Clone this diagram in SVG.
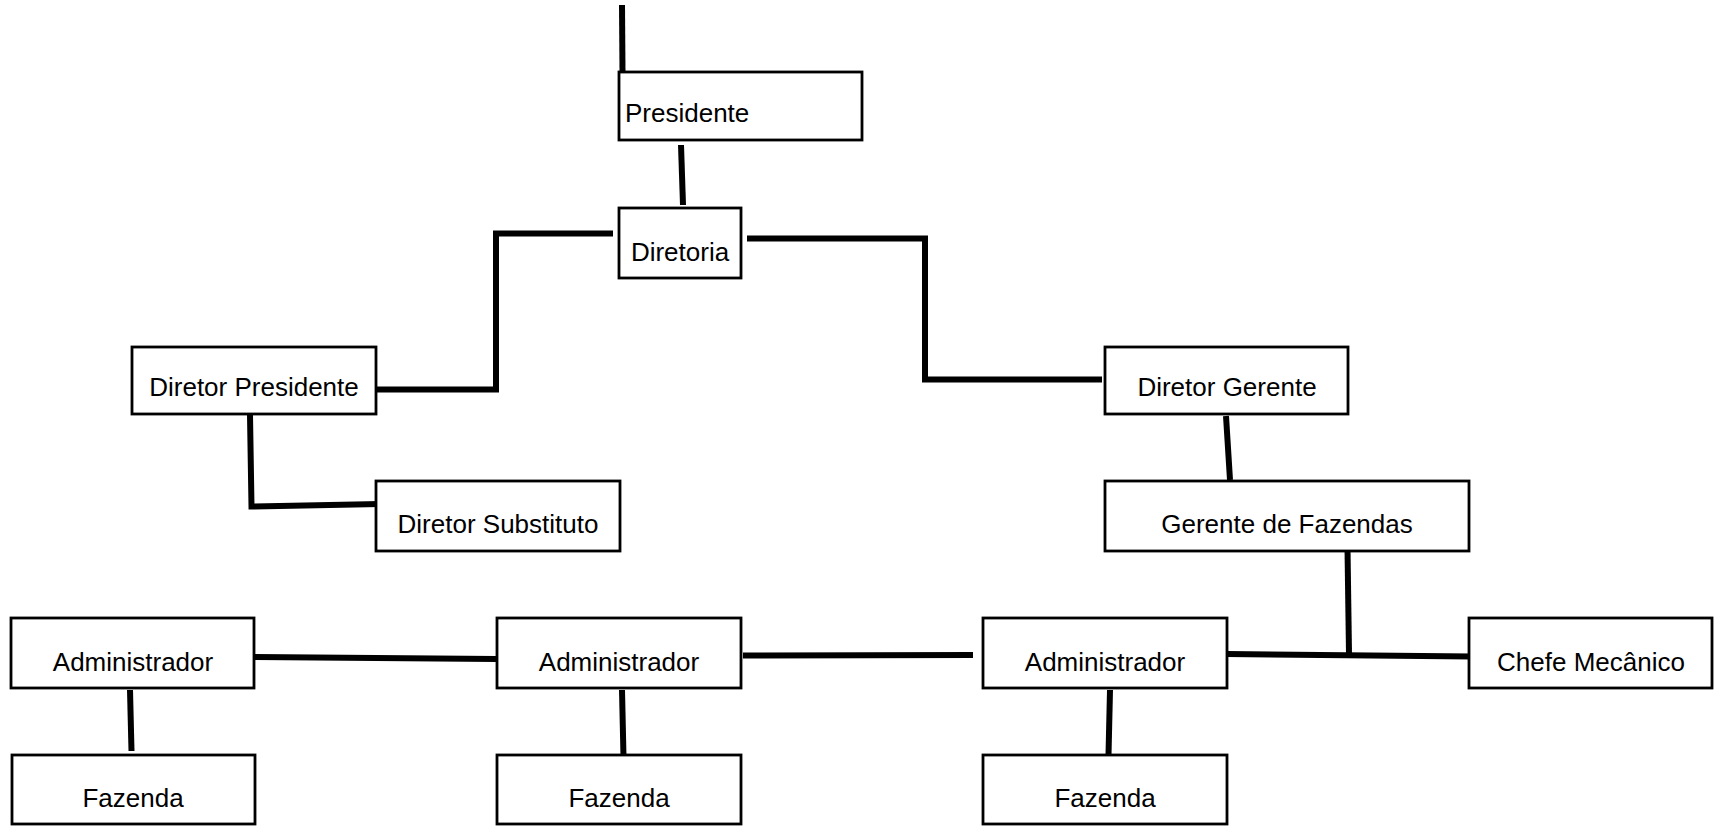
<svg xmlns="http://www.w3.org/2000/svg" width="1714" height="827" viewBox="0 0 1714 827">
<style>
.box{fill:#fff;stroke:#000;stroke-width:2.8}
.lbl{font-family:"Liberation Sans",Arial,sans-serif;font-size:26px;fill:#000;text-anchor:middle}
.con{fill:none;stroke:#000;stroke-width:6;stroke-linejoin:miter;stroke-linecap:butt}
</style>
<rect width="1714" height="827" fill="#fff"/>
<g id="connectors">
<path class="con" d="M622 5 L622.5 72"/>
<path class="con" d="M681 145 L683 205"/>
<path class="con" d="M613 233.5 L496 233.5 L496 389.5 L377 389.5"/>
<path class="con" d="M747 238.5 L925 238.5 L925 379.5 L1102 379.5"/>
<path class="con" d="M250 415 L251.5 506.5 L380 504"/>
<path class="con" d="M1226 416 L1230 480"/>
<path class="con" d="M1347.5 548 L1349 654"/>
<path class="con" d="M1227 654 L1472 656.5"/>
<path class="con" d="M255 657 L496 659"/>
<path class="con" d="M743 655.5 L973 655"/>
<path class="con" d="M130 690 L131.5 751"/>
<path class="con" d="M622 690 L623.5 757"/>
<path class="con" d="M1110 690 L1108.5 755"/>
</g>
<g id="presidente"><rect class="box" x="619" y="72" width="243" height="68"/><text class="lbl" x="625" y="122" style="text-anchor:start">Presidente</text></g>
<g id="diretoria"><rect class="box" x="619" y="208" width="122" height="70"/><text class="lbl" x="680" y="261">Diretoria</text></g>
<g id="diretor-presidente"><rect class="box" x="132" y="347" width="244" height="67"/><text class="lbl" x="254" y="396">Diretor Presidente</text></g>
<g id="diretor-substituto"><rect class="box" x="376" y="481" width="244" height="70"/><text class="lbl" x="498" y="533">Diretor Substituto</text></g>
<g id="diretor-gerente"><rect class="box" x="1105" y="347" width="243" height="67"/><text class="lbl" x="1227" y="396">Diretor Gerente</text></g>
<g id="gerente-fazendas"><rect class="box" x="1105" y="481" width="364" height="70"/><text class="lbl" x="1287" y="533">Gerente de Fazendas</text></g>
<g id="administrador-1"><rect class="box" x="11" y="618" width="243" height="70"/><text class="lbl" x="133" y="671">Administrador</text></g>
<g id="administrador-2"><rect class="box" x="497" y="618" width="244" height="70"/><text class="lbl" x="619" y="671">Administrador</text></g>
<g id="administrador-3"><rect class="box" x="983" y="618" width="244" height="70"/><text class="lbl" x="1105" y="671">Administrador</text></g>
<g id="chefe-mecanico"><rect class="box" x="1469" y="618" width="243" height="70"/><text class="lbl" x="1591" y="671">Chefe Mecânico</text></g>
<g id="fazenda-1"><rect class="box" x="12" y="755" width="243" height="69"/><text class="lbl" x="133" y="807">Fazenda</text></g>
<g id="fazenda-2"><rect class="box" x="497" y="755" width="244" height="69"/><text class="lbl" x="619" y="807">Fazenda</text></g>
<g id="fazenda-3"><rect class="box" x="983" y="755" width="244" height="69"/><text class="lbl" x="1105" y="807">Fazenda</text></g>
</svg>
